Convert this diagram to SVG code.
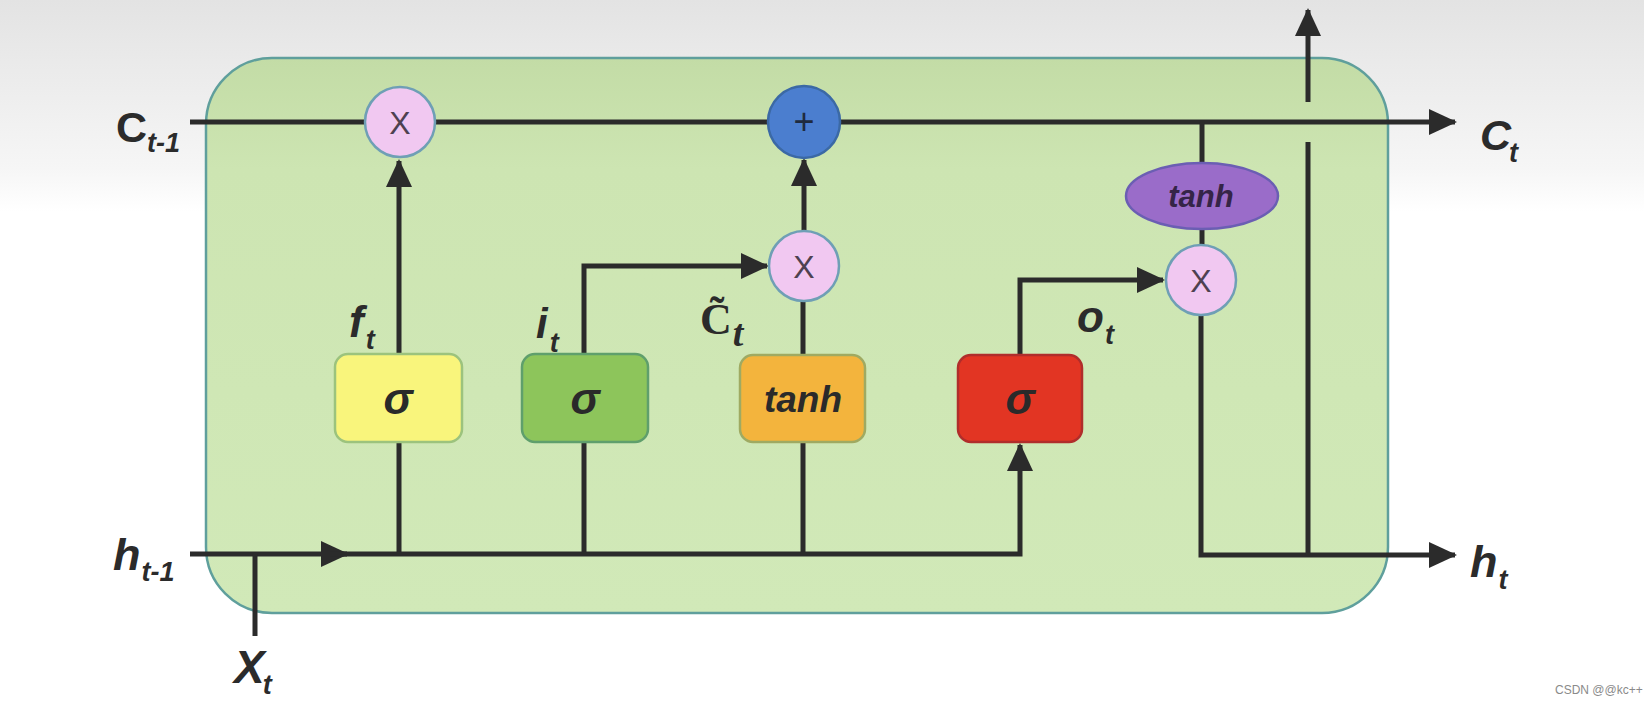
<svg xmlns="http://www.w3.org/2000/svg" width="1644" height="705" viewBox="0 0 1644 705">
  <defs>
    <linearGradient id="bgGrad" x1="0" y1="0" x2="0" y2="1">
      <stop offset="0" stop-color="#e3e3e3"/>
      <stop offset="0.24" stop-color="#f6f6f6"/>
      <stop offset="0.3" stop-color="#ffffff"/>
      <stop offset="1" stop-color="#ffffff"/>
    </linearGradient>
    <linearGradient id="cellGrad" x1="0" y1="0" x2="0" y2="1">
      <stop offset="0" stop-color="#c3dca6"/>
      <stop offset="0.2" stop-color="#cde5b2"/>
      <stop offset="1" stop-color="#d1e9b8"/>
    </linearGradient>
    <marker id="arrow" markerUnits="userSpaceOnUse" markerWidth="30" markerHeight="28" refX="26" refY="13" orient="auto">
      <path d="M0,0 L28,13 L0,26 Z" fill="#2b2b2b"/>
    </marker>
    <style>
      .wire { fill: none; stroke: #2b2b2b; stroke-width: 5; }
      .arr { marker-end: url(#arrow); }
      .mul { fill: #f1c8f1; stroke: #6f9fb5; stroke-width: 2.5; }
      .add { fill: #4b7ecf; stroke: #3b69a5; stroke-width: 2.5; }
      .op { font-family: "Liberation Sans", Arial, sans-serif; font-size: 32px; fill: #4e4150; text-anchor: middle; }
      .gate { stroke-width: 2.5; }
      .fn { font-family: "Liberation Sans", Arial, sans-serif; font-weight: bold; font-style: italic; fill: #2a2a2a; text-anchor: middle; }
      .lbl { font-family: "Liberation Sans", Arial, sans-serif; font-weight: bold; font-style: italic; fill: #2b2b2b; }
      .up { font-style: normal; }
      .sub { font-size: 27px; }
      .mark { font-family: "Liberation Sans", Arial, sans-serif; font-size: 12px; fill: #8a8a8a; }
    </style>
  </defs>

  <!-- backdrop -->
  <rect x="0" y="0" width="1644" height="705" fill="url(#bgGrad)"/>

  <!-- LSTM cell body -->
  <g id="cell">
    <rect x="206" y="58" width="1182" height="555" rx="66" ry="66" fill="url(#cellGrad)" stroke="#5f9f9c" stroke-width="2.5"/>
  </g>

  <!-- connectors -->
  <g id="connectors">
    <!-- cell state C(t-1) -> C(t) -->
    <path class="wire arr" d="M190,122 H1455"/>
    <!-- forget gate output to multiply -->
    <path class="wire arr" d="M399,554 V161"/>
    <!-- input gate output to candidate multiply -->
    <path class="wire arr" d="M584,554 V266 H767"/>
    <!-- candidate tanh to multiply -->
    <path class="wire" d="M803,554 V302"/>
    <!-- product into the sum -->
    <path class="wire arr" d="M804,231 V160"/>
    <!-- h(t-1) entering -->
    <path class="wire arr" d="M190,554 H347"/>
    <path class="wire arr" d="M330,554 H1020 V445"/>
    <!-- x(t) joining -->
    <path class="wire" d="M255,554 V636"/>
    <!-- output gate to multiply -->
    <path class="wire arr" d="M1020,355 V280 H1163"/>
    <!-- cell state through tanh -->
    <path class="wire" d="M1202,122 V164"/>
    <path class="wire" d="M1202,228 V247"/>
    <!-- h(t) out -->
    <path class="wire arr" d="M1201,314 V555 H1455"/>
    <path class="wire" d="M1308,555 V142"/>
    <path class="wire arr" d="M1308,102 V10"/>
  </g>

  <!-- pointwise operations -->
  <g id="forget-mul">
    <circle class="mul" cx="400" cy="122" r="35"/>
    <text class="op" x="400" y="134">X</text>
  </g>
  <g id="cell-add">
    <circle class="add" cx="804" cy="122" r="36"/>
    <text class="op" x="804" y="134" style="fill:#1f2b3f;font-size:36px">+</text>
  </g>
  <g id="input-mul">
    <circle class="mul" cx="804" cy="266" r="35"/>
    <text class="op" x="804" y="278">X</text>
  </g>
  <g id="output-mul">
    <circle class="mul" cx="1201" cy="280" r="35"/>
    <text class="op" x="1201" y="292">X</text>
  </g>
  <g id="cell-tanh">
    <ellipse cx="1202" cy="196" rx="76" ry="33" fill="#9a6cc9" stroke="#6b5eb3" stroke-width="2.5"/>
    <text class="fn" x="1201" y="207" font-size="31" style="fill:#352447">tanh</text>
  </g>

  <!-- gate layers -->
  <g id="forget-gate">
    <rect class="gate" x="335" y="354" width="127" height="88" rx="13" fill="#f9f57c" stroke="#9cc37d"/>
    <text class="fn" x="398" y="414" font-size="44">σ</text>
  </g>
  <g id="input-gate">
    <rect class="gate" x="522" y="354" width="126" height="88" rx="13" fill="#8dc55b" stroke="#5f9f6c"/>
    <text class="fn" x="585" y="414" font-size="44">σ</text>
  </g>
  <g id="candidate-gate">
    <rect class="gate" x="740" y="355" width="125" height="87" rx="13" fill="#f3b43d" stroke="#9faa62"/>
    <text class="fn" x="803" y="412" font-size="37">tanh</text>
  </g>
  <g id="output-gate">
    <rect class="gate" x="958" y="355" width="124" height="87" rx="13" fill="#e23523" stroke="#b02d2b"/>
    <text class="fn" x="1020" y="414" font-size="44">σ</text>
  </g>

  <!-- signal labels -->
  <g id="labels">
    <text class="lbl" x="116" y="142" font-size="43"><tspan class="up">C</tspan><tspan class="sub" dy="10">t-1</tspan></text>
    <text class="lbl" x="1480" y="150" font-size="43">C<tspan class="sub" dx="-2" dy="12">t</tspan></text>
    <text class="lbl" x="113" y="570" font-size="45">h<tspan class="sub" dx="1" dy="11">t-1</tspan></text>
    <text class="lbl" x="1470" y="577" font-size="45">h<tspan class="sub" dx="1" dy="12">t</tspan></text>
    <text class="lbl" x="234" y="683" font-size="46">X<tspan class="sub" dx="-2" dy="11">t</tspan></text>
    <text class="lbl" x="349" y="337" font-size="44">f<tspan class="sub" dx="2" dy="12">t</tspan></text>
    <text class="lbl" x="536" y="338" font-size="42">i<tspan class="sub" dx="2" dy="14">t</tspan></text>
    <text class="lbl" x="1077" y="332" font-size="44">o<tspan class="sub" dx="1" dy="12">t</tspan></text>
    <text x="700" y="334" font-family="'Liberation Serif', 'Times New Roman', serif" font-weight="bold" font-size="44" fill="#2b2b2b">C&#x303;<tspan font-style="italic" font-size="38" dx="1" dy="12">t</tspan></text>
  </g>

  <text class="mark" x="1555" y="694">CSDN @@kc++</text>
</svg>
